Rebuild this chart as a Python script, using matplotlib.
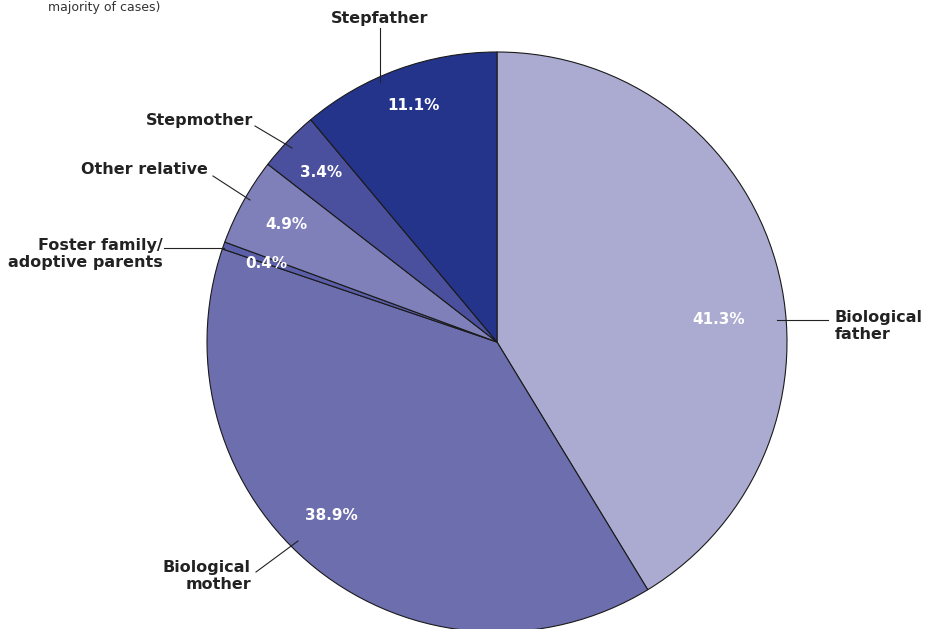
import matplotlib.pyplot as plt
import numpy as np

# ===================================== data =====================================

categories = ["Biological\nfather", "Biological\nmother", "Foster family/\nadoptive parents",
              "Other relative", "Stepmother", "Stepfather"]
shares = [41.3, 38.9, 0.4, 4.9, 3.4, 11.1]
pct_labels = ["41.3%", "38.9%", "0.4%", "4.9%", "3.4%", "11.1%"]

colors = ["#ababd1", "#6d6eae", "#5b5ea9", "#7f80ba", "#4a4f9e", "#24348b"]

# layout (pixel coordinates, y down)
W, H = 928, 629
center = (497, 342)
radius = 290
pct_pos = [(719, 320), (331, 516), (266, 264), (286, 225), (321, 173), (414, 106)]
name_pos = [(835, 326, "left"), (251, 576, "right"), (163, 254, "right"),
            (208, 170, "right"), (253, 121, "right"), (380, 18, "center")]
leaders = [((777, 320), (828, 320)), ((298, 541), (256, 572)), ((224, 248), (164, 248)),
           ((250, 200), (213, 176)), ((292, 148), (255, 126)), ((380, 82), (380, 28))]

# ================================================================================

plt.rcParams["font.family"] = ["DejaVu Sans"]

fig = plt.figure(figsize=(W / 100, H / 100), dpi=100)
ax = fig.add_axes([0, 0, 1, 1])


def fy(y):
    return H - y


ax.pie(
    shares,
    colors=colors,
    startangle=90,
    counterclock=False,
    center=(center[0], fy(center[1])),
    radius=radius,
    wedgeprops=dict(edgecolor="#1a1a1a", linewidth=0.8),
    frame=True,
)
ax.set_xlim(0, W)
ax.set_ylim(0, H)
ax.axis("off")

for lab, (x, y) in zip(pct_labels, pct_pos):
    ax.text(x, fy(y), lab, color="white", fontsize=11, fontweight="bold",
            ha="center", va="center")

for name, (x, y, ha) in zip(categories, name_pos):
    ax.text(x, fy(y), name, color="#222222", fontsize=11.5, fontweight="bold",
            ha=ha, va="center", multialignment=ha if ha != "center" else "center",
            linespacing=1.2)

for (x0, y0), (x1, y1) in leaders:
    ax.plot([x0, x1], [fy(y0), fy(y1)], color="#222222", linewidth=0.8)

# heading remnant at the very top
ax.text(48, fy(7), "majority of cases)", color="#333333", fontsize=9,
        ha="left", va="center")

fig.savefig("out.png", dpi=100)
